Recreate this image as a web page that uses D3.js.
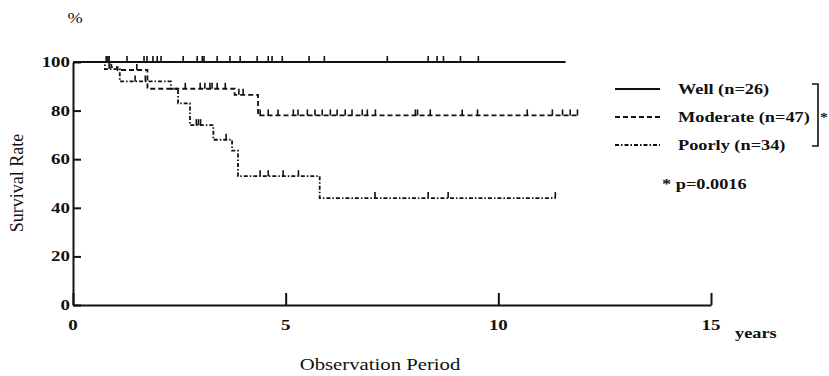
<!DOCTYPE html>
<html><head><meta charset="utf-8">
<script src="https://cdn.jsdelivr.net/npm/d3@7"></script>
<style>body{margin:0;background:#fff}svg{display:block}</style>
</head><body>
<script>
// ---- data ----
const yTicks = [0, 20, 40, 60, 80, 100];
const xTicks = [0, 5, 10, 15];
const wellEnd = 11.58;
const wellCensor = [0.78, 0.85, 1.27, 1.67, 1.74, 1.88, 1.98, 2.07, 2.59, 2.92, 3.04, 3.08, 3.39, 3.69, 3.93, 4.33, 4.59, 4.68, 4.92, 5.55, 5.91, 7.39, 8.35, 8.56, 8.71, 9.11, 9.53];
const modTimes = [0, 0.9, 1.05, 1.75, 3.8, 4.35];
const modSurv = [100, 97.9, 96.7, 89, 86.5, 78];
const modEnd = 11.9;
const modCensor = [0.82, 1.5, 2.64, 2.99, 3.1, 3.22, 3.27, 3.39, 3.58, 3.9, 4.0, 4.4, 4.59, 4.82, 5.18, 5.29, 5.51, 5.69, 5.86, 6.05, 6.21, 6.4, 6.56, 6.8, 6.92, 7.11, 8.05, 8.1, 8.4, 9.15, 9.51, 10.68, 11.27, 11.51, 11.69, 11.86];
const poorTimes = [0, 0.75, 1.1, 2.3, 2.47, 2.75, 3.3, 3.74, 3.88, 5.8];
const poorSurv = [100, 97.1, 92, 89, 83, 74, 68, 63.5, 53, 44];
const poorEnd = 11.35;
const poorCensor = [0.85, 1.46, 1.7, 2.9, 2.95, 3.0, 3.6, 4.4, 4.59, 4.94, 5.3, 7.1, 8.35, 8.82, 11.34];
const legendLabels = ["Well (n=26)", "Moderate (n=47)", "Poorly (n=34)"];
const pText = "* p=0.0016";

// ---- setup ----
const W = 829, H = 376, SX = 1.22;
const FONT = "'Liberation Serif','Times New Roman',serif";
const svg = d3.select("body").append("svg").attr("width", W).attr("height", H);
svg.append("rect").attr("width", W).attr("height", H).attr("fill", "#fff");

const x = d3.scaleLinear().domain([0, 15]).range([73, 711]);
const y = d3.scaleLinear().domain([0, 100]).range([305, 62]);

function txt(px, py, s, o = {}) {
  return svg.append("text")
    .attr("transform", `translate(${px},${py}) scale(${SX},1)`)
    .attr("text-anchor", o.anchor || "start")
    .attr("font-family", FONT)
    .attr("font-size", o.size || 15.5)
    .attr("font-weight", o.weight || "bold")
    .attr("fill", "#111")
    .text(s);
}

// ---- axes ----
const yAxis = svg.append("g").attr("transform", `translate(${x(0)},0)`)
  .call(d3.axisLeft(y).tickValues(yTicks).tickSizeInner(-8).tickSizeOuter(0).tickFormat(""));
const xAxis = svg.append("g").attr("transform", `translate(0,${y(0)})`)
  .call(d3.axisBottom(x).tickValues(xTicks).tickSizeInner(-12).tickSizeOuter(0).tickFormat(""));
[yAxis, xAxis].forEach(g => {
  g.selectAll("path,line").attr("stroke", "#111").attr("stroke-width", 2);
});
yTicks.forEach(v => txt(x(0) - 3, y(v) + 5, v, { anchor: "end", size: 15.5 }));
xTicks.forEach(v => txt(x(v), 330, v, { anchor: "middle", size: 15.5 }));

txt(75, 23, "%", { anchor: "middle", weight: "normal", size: 15 });
txt(735, 338, "years", { size: 15 });
txt(380, 370, "Observation Period", { anchor: "middle", weight: "normal", size: 17 });
// rotated y title
svg.append("text")
  .attr("transform", `translate(23,183) rotate(-90)`)
  .attr("text-anchor", "middle").attr("font-family", FONT).attr("font-size", 18)
  .attr("fill", "#111").text("Survival Rate");

// ---- curves ----
const line = d3.line().x(d => x(d[0])).y(d => y(d[1])).curve(d3.curveStepAfter);
function stepPts(times, surv, end) {
  const p = times.map((t, i) => [t, surv[i]]);
  p.push([end, surv[surv.length - 1]]);
  return p;
}
function survAt(times, surv, t) {
  let v = surv[0];
  for (let i = 0; i < times.length; i++) if (times[i] <= t) v = surv[i];
  return v;
}
const series = [
  { pts: [[0, 100], [wellEnd, 100]], times: [0], surv: [100], censor: wellCensor, dash: null },
  { pts: stepPts(modTimes, modSurv, modEnd), times: modTimes, surv: modSurv, censor: modCensor, dash: "5,3" },
  { pts: stepPts(poorTimes, poorSurv, poorEnd), times: poorTimes, surv: poorSurv, censor: poorCensor, dash: "4,2,1.5,2" }
];
series.forEach(s => {
  svg.append("path").attr("d", line(s.pts)).attr("fill", "none")
    .attr("stroke", "#111").attr("stroke-width", 1.8)
    .attr("stroke-dasharray", s.dash);
  svg.append("g").selectAll("line").data(s.censor).join("line")
    .attr("x1", d => x(d)).attr("x2", d => x(d))
    .attr("y1", d => y(survAt(s.times, s.surv, d)))
    .attr("y2", d => y(survAt(s.times, s.surv, d)) - 6)
    .attr("stroke", "#111").attr("stroke-width", 1.6);
});

// ---- legend ----
const legY = [89, 117, 145];
legendLabels.forEach((lab, i) => {
  svg.append("line").attr("x1", 615).attr("x2", 660).attr("y1", legY[i]).attr("y2", legY[i])
    .attr("stroke", "#111").attr("stroke-width", 1.8)
    .attr("stroke-dasharray", series[i].dash);
  txt(678, legY[i] + 5, lab, { size: 15 });
});
svg.append("path").attr("d", "M812,84H818V146H812").attr("fill", "none")
  .attr("stroke", "#111").attr("stroke-width", 1.6);
txt(820, 121, "*", { size: 13 });
txt(662, 189, pText, { size: 15 });
</script>
</body></html>
